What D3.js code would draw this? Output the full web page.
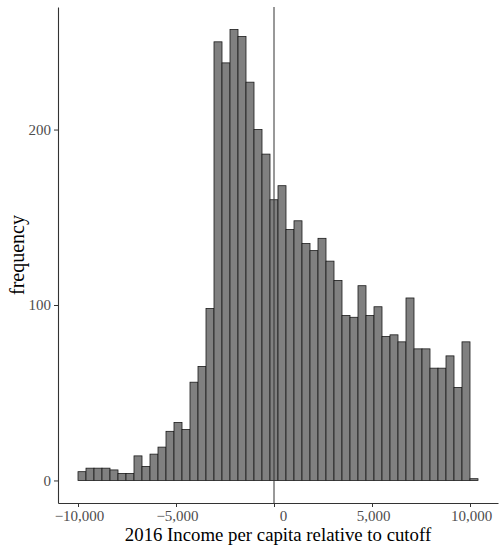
<!DOCTYPE html>
<html>
<head>
<meta charset="utf-8">
<script src="https://cdn.jsdelivr.net/npm/d3@7"></script>
<style>
  body { margin: 0; background: #fff; }
  svg { display: block; }
</style>
</head>
<body>
<svg id="chart" width="503" height="550"></svg>
<script>
// Histogram: 50 bins (ggplot bins = 50), first bin starts at -10,000
const binStart = -10000;
const binWidth = 20000 / 49;
const counts = [5, 7, 7, 7, 6, 4, 4, 14, 8, 15,
                19, 28, 33, 29, 56, 65, 98, 250, 238, 257,
                253, 227, 200, 186, 160, 168, 143, 148, 135, 131,
                138, 125, 114, 94, 93, 111, 94, 99, 82, 83,
                79, 104, 75, 75, 64, 64, 71, 53, 79, 1];
const xTicks = [-10000, -5000, 0, 5000, 10000];
const yTicks = [0, 100, 200];
const cutoff = 0;
const xTitle = "2016 Income per capita relative to cutoff";
const yTitle = "frequency";

const bins = counts.map((c, i) => ({
  x0: binStart + i * binWidth,
  x1: binStart + (i + 1) * binWidth,
  n: c
}));

const W = 503, H = 550;
const panel = { left: 58, right: 498, top: 7, bottom: 503 };

const xMin = bins[0].x0, xMax = bins[bins.length - 1].x1;
const xPad = (xMax - xMin) * 0.05;
const x = d3.scaleLinear().domain([xMin - xPad, xMax + xPad]).range([panel.left, panel.right]);
const yMaxV = d3.max(counts);
const y = d3.scaleLinear().domain([-0.05 * yMaxV, yMaxV * 1.05]).range([panel.bottom, panel.top]);

const svg = d3.select("#chart");
const fontFam = "'Liberation Serif', 'Times New Roman', serif";

// bars
svg.append("g").selectAll("rect").data(bins).join("rect")
  .attr("x", d => x(d.x0))
  .attr("width", d => x(d.x1) - x(d.x0))
  .attr("y", d => y(d.n))
  .attr("height", d => y(0) - y(d.n))
  .attr("fill", "#808080")
  .attr("stroke", "#1a1a1a")
  .attr("stroke-width", 0.8);

// cutoff line
svg.append("line")
  .attr("x1", x(cutoff)).attr("x2", x(cutoff))
  .attr("y1", panel.top).attr("y2", panel.bottom)
  .attr("stroke", "#333").attr("stroke-width", 1);

const fmt = v => (v < 0 ? "\u2212" : "") + d3.format(",")(Math.abs(v));

// x axis
const gx = svg.append("g").attr("transform", `translate(0,${panel.bottom})`)
  .call(d3.axisBottom(x).tickValues(xTicks).tickFormat(fmt).tickSize(4).tickSizeOuter(0).tickPadding(3));
gx.select(".domain").attr("stroke", "#333").attr("stroke-width", 1.1);
gx.selectAll(".tick line").attr("stroke", "#333");
gx.selectAll(".tick text")
  .attr("font-family", fontFam).attr("font-size", 15).attr("fill", "#4d4d4d")
  .attr("dx", d => d === 0 ? 9 : 1);

// y axis
const gy = svg.append("g").attr("transform", `translate(${panel.left},0)`)
  .call(d3.axisLeft(y).tickValues(yTicks).tickFormat(fmt).tickSize(4).tickSizeOuter(0).tickPadding(3));
gy.select(".domain").attr("stroke", "#333").attr("stroke-width", 1.1);
gy.selectAll(".tick line").attr("stroke", "#333");
gy.selectAll(".tick text")
  .attr("font-family", fontFam).attr("font-size", 15).attr("fill", "#4d4d4d");

// titles
svg.append("text")
  .attr("x", (panel.left + panel.right) / 2).attr("y", 541)
  .attr("text-anchor", "middle")
  .attr("font-family", fontFam).attr("font-size", 18.8).attr("fill", "#000")
  .text(xTitle);

svg.append("text")
  .attr("transform", `translate(24,${(panel.top + panel.bottom) / 2}) rotate(-90)`)
  .attr("text-anchor", "middle")
  .attr("font-family", fontFam).attr("font-size", 20).attr("fill", "#000")
  .text(yTitle);
</script>
</body>
</html>
